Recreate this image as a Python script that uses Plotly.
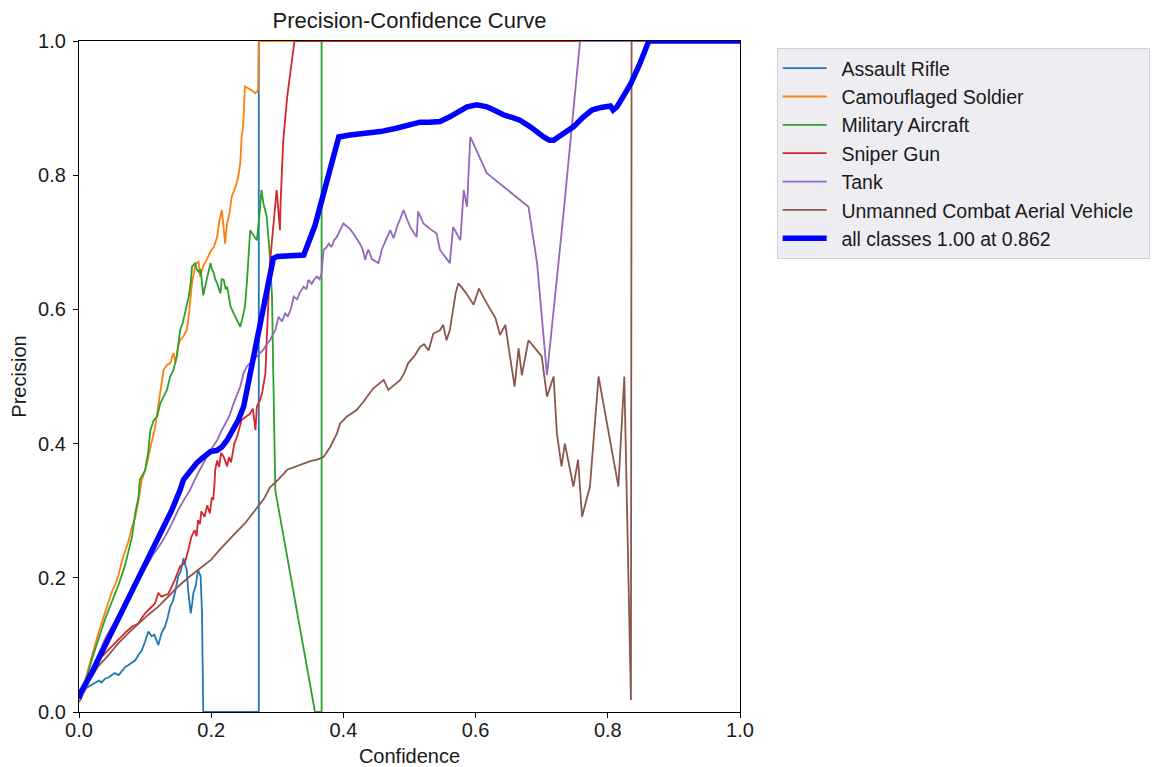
import plotly.graph_objects as go

# ---------------- data ----------------
ar_x = [0, 0.002, 0.010, 0.018, 0.024, 0.030, 0.034, 0.040, 0.044, 0.050, 0.054, 0.060, 0.064, 0.070,
        0.075, 0.080, 0.085, 0.090, 0.095, 0.100, 0.105, 0.110, 0.114, 0.120, 0.125, 0.130, 0.134,
        0.138, 0.142, 0.145, 0.150, 0.154, 0.158, 0.161, 0.163, 0.165, 0.167, 0.169, 0.171, 0.173,
        0.177, 0.180, 0.184, 0.186, 0.188, 0.272, 0.272, 1.0]
ar_y = [0.02, 0.023, 0.035, 0.040, 0.043, 0.047, 0.044, 0.050, 0.051, 0.056, 0.058, 0.055, 0.060, 0.067,
        0.070, 0.074, 0.077, 0.085, 0.092, 0.105, 0.120, 0.113, 0.115, 0.100, 0.118, 0.127, 0.140,
        0.157, 0.165, 0.177, 0.202, 0.210, 0.229, 0.218, 0.212, 0.182, 0.165, 0.147, 0.160, 0.177,
        0.190, 0.212, 0.202, 0.150, 0.0, 0.0, 1.0, 1.0]

cs_x = [0, 0.01, 0.02, 0.03, 0.04, 0.045, 0.05, 0.055, 0.06, 0.065, 0.07, 0.075, 0.08, 0.085, 0.09,
        0.095, 0.100, 0.104, 0.108, 0.112, 0.116, 0.120, 0.124, 0.128, 0.133, 0.138, 0.143, 0.146,
        0.150, 0.153, 0.158, 0.163, 0.166, 0.168, 0.171, 0.174, 0.176, 0.178, 0.181, 0.183, 0.186,
        0.188, 0.192, 0.196, 0.200, 0.204, 0.209, 0.212, 0.216, 0.219, 0.221, 0.224, 0.228, 0.231,
        0.234, 0.237, 0.241, 0.244, 0.246, 0.248, 0.249, 0.251, 0.259, 0.267, 0.271, 0.272, 1.0]
cs_y = [0.02, 0.05, 0.085, 0.12, 0.15, 0.165, 0.18, 0.19, 0.205, 0.225, 0.24, 0.255, 0.276, 0.29, 0.315,
        0.346, 0.36, 0.375, 0.395, 0.41, 0.43, 0.455, 0.48, 0.510, 0.517, 0.52, 0.535, 0.52,
        0.545, 0.554, 0.56, 0.569, 0.59, 0.609, 0.64, 0.655, 0.669, 0.669, 0.671, 0.649, 0.66,
        0.664, 0.672, 0.681, 0.688, 0.693, 0.708, 0.73, 0.748, 0.72, 0.698, 0.728, 0.745, 0.768,
        0.775, 0.783, 0.798, 0.818, 0.857, 0.87, 0.887, 0.932, 0.928, 0.922, 0.927, 1.0, 1.0]

ma_x = [0, 0.01, 0.02, 0.03, 0.04, 0.05, 0.06, 0.07, 0.08, 0.085, 0.09, 0.092, 0.097, 0.100, 0.105,
        0.108, 0.113, 0.118, 0.123, 0.128, 0.133, 0.138, 0.143, 0.148, 0.153, 0.157, 0.161, 0.166,
        0.169, 0.171, 0.176, 0.178, 0.181, 0.184, 0.186, 0.188, 0.191, 0.194, 0.199, 0.201, 0.204,
        0.206, 0.209, 0.211, 0.214, 0.216, 0.219, 0.222, 0.224, 0.227, 0.229, 0.234, 0.240, 0.244,
        0.248, 0.251, 0.254, 0.256, 0.259, 0.263, 0.267, 0.269, 0.273, 0.276, 0.279, 0.284, 0.289,
        0.292, 0.294, 0.297, 0.357, 0.367, 0.367, 1.0]
ma_y = [0.02, 0.045, 0.08, 0.11, 0.14, 0.165, 0.19, 0.22, 0.26, 0.296, 0.32, 0.346, 0.355, 0.36, 0.39,
        0.42, 0.435, 0.44, 0.46, 0.47, 0.48, 0.50, 0.51, 0.53, 0.569, 0.58, 0.599, 0.619,
        0.64, 0.664, 0.669, 0.66, 0.656, 0.66, 0.64, 0.621, 0.635, 0.649, 0.669, 0.66, 0.654,
        0.645, 0.639, 0.632, 0.624, 0.645, 0.644, 0.63, 0.634, 0.618, 0.605, 0.594, 0.583, 0.574,
        0.59, 0.604, 0.64, 0.678, 0.718, 0.712, 0.706, 0.703, 0.74, 0.778, 0.758, 0.738, 0.678,
        0.619, 0.50, 0.33, 0.0, 0.0, 1.0, 1.0]

sg_x = [0, 0.002, 0.015, 0.029, 0.04, 0.049, 0.056, 0.064, 0.072, 0.080, 0.085, 0.090, 0.095, 0.100,
        0.108, 0.115, 0.120, 0.125, 0.130, 0.135, 0.138, 0.142, 0.145, 0.150, 0.153, 0.157, 0.160,
        0.165, 0.170, 0.175, 0.178, 0.180, 0.183, 0.185, 0.190, 0.194, 0.198, 0.201, 0.203, 0.205,
        0.206, 0.209, 0.212, 0.215, 0.219, 0.222, 0.224, 0.227, 0.230, 0.235, 0.239, 0.246, 0.252,
        0.259, 0.263, 0.267, 0.269, 0.274, 0.277, 0.282, 0.284, 0.287, 0.289, 0.292, 0.296, 0.299,
        0.302, 0.304, 0.305, 0.307, 0.309, 0.315, 0.320, 0.326, 1.0]
sg_y = [0.02, 0.023, 0.05, 0.077, 0.088, 0.097, 0.105, 0.112, 0.12, 0.127, 0.13, 0.132, 0.14, 0.147,
        0.155, 0.162, 0.177, 0.172, 0.174, 0.176, 0.182, 0.19, 0.197, 0.21, 0.217, 0.22, 0.222,
        0.24, 0.261, 0.271, 0.262, 0.286, 0.28, 0.299, 0.291, 0.308, 0.296, 0.32, 0.316, 0.34,
        0.36, 0.375, 0.365, 0.386, 0.38, 0.372, 0.366, 0.38, 0.372, 0.40, 0.410, 0.435, 0.44,
        0.445, 0.452, 0.420, 0.455, 0.465, 0.475, 0.505, 0.554, 0.619, 0.669, 0.703, 0.74, 0.778,
        0.743, 0.718, 0.76, 0.813, 0.852, 0.917, 0.955, 1.0, 1.0]

tk_x = [0, 0.02, 0.04, 0.06, 0.08, 0.10, 0.113, 0.120, 0.130, 0.140, 0.150, 0.160, 0.168, 0.175,
        0.182, 0.188, 0.193, 0.199, 0.204, 0.209, 0.215, 0.221, 0.227, 0.234, 0.239, 0.244, 0.249,
        0.254, 0.259, 0.264, 0.269, 0.274, 0.279, 0.284, 0.289, 0.292, 0.297, 0.302, 0.307, 0.312,
        0.316, 0.320, 0.325, 0.330, 0.334, 0.340, 0.344, 0.347, 0.352, 0.356, 0.360, 0.364, 0.367,
        0.370, 0.374, 0.378, 0.382, 0.386, 0.390, 0.395, 0.400, 0.405, 0.410, 0.415, 0.420, 0.425,
        0.429, 0.433, 0.436, 0.438, 0.443, 0.448, 0.453, 0.456, 0.458, 0.465, 0.471, 0.476, 0.481,
        0.486, 0.491, 0.496, 0.501, 0.506, 0.511, 0.513, 0.517, 0.521, 0.531, 0.541, 0.546, 0.553,
        0.561, 0.566, 0.571, 0.577, 0.582, 0.587, 0.592, 0.617, 0.680, 0.693, 0.708, 0.733, 0.758, 1.0]
tk_y = [0.02, 0.065, 0.11, 0.145, 0.18, 0.215, 0.236, 0.245, 0.261, 0.28, 0.301, 0.318, 0.331, 0.346,
        0.36, 0.371, 0.38, 0.390, 0.398, 0.405, 0.418, 0.430, 0.44, 0.460, 0.472, 0.485, 0.505,
        0.515, 0.52, 0.525, 0.530, 0.535, 0.540, 0.548, 0.554, 0.56, 0.569, 0.589, 0.582, 0.594,
        0.59, 0.599, 0.619, 0.615, 0.625, 0.634, 0.63, 0.644, 0.638, 0.645, 0.649, 0.645, 0.654,
        0.689, 0.692, 0.698, 0.693, 0.703, 0.708, 0.718, 0.728, 0.724, 0.72, 0.713, 0.706, 0.698,
        0.69, 0.674, 0.685, 0.689, 0.675, 0.672, 0.669, 0.68, 0.689, 0.705, 0.718, 0.706, 0.723,
        0.735, 0.748, 0.735, 0.723, 0.715, 0.708, 0.746, 0.737, 0.728, 0.72, 0.713, 0.689, 0.68,
        0.669, 0.723, 0.713, 0.703, 0.778, 0.753, 0.857, 0.803, 0.753, 0.669, 0.502, 0.743, 1.0, 1.0]

uc_x = [0, 0.002, 0.015, 0.029, 0.045, 0.059, 0.075, 0.090, 0.105, 0.120, 0.135, 0.150, 0.165, 0.180,
        0.190, 0.200, 0.213, 0.226, 0.238, 0.251, 0.261, 0.271, 0.280, 0.289, 0.300, 0.315, 0.325,
        0.340, 0.350, 0.360, 0.370, 0.380, 0.390, 0.395, 0.405, 0.420, 0.430, 0.445, 0.455, 0.461,
        0.468, 0.478, 0.486, 0.492, 0.498, 0.507, 0.516, 0.522, 0.529, 0.536, 0.546, 0.551, 0.556,
        0.561, 0.566, 0.570, 0.574, 0.585, 0.597, 0.605, 0.617, 0.625, 0.630, 0.637, 0.645, 0.652,
        0.659, 0.665, 0.670, 0.680, 0.700, 0.708, 0.718, 0.723, 0.730, 0.735, 0.748, 0.755, 0.761,
        0.773, 0.786, 0.816, 0.825, 0.835, 0.836, 1.0]
uc_y = [0.015, 0.018, 0.045, 0.068, 0.085, 0.102, 0.118, 0.132, 0.145, 0.157, 0.172, 0.187, 0.2, 0.212,
        0.22, 0.227, 0.242, 0.256, 0.268, 0.281, 0.294, 0.306, 0.318, 0.335, 0.345, 0.361, 0.365,
        0.371, 0.374, 0.376, 0.380, 0.395, 0.415, 0.430, 0.440, 0.450, 0.462, 0.482, 0.49, 0.495,
        0.480, 0.488, 0.495, 0.505, 0.520, 0.53, 0.544, 0.548, 0.539, 0.564, 0.569, 0.577, 0.554,
        0.569, 0.599, 0.625, 0.639, 0.625, 0.607, 0.631, 0.609, 0.595, 0.587, 0.562, 0.577, 0.530,
        0.485, 0.542, 0.502, 0.554, 0.530, 0.470, 0.500, 0.415, 0.366, 0.400, 0.336, 0.376, 0.291,
        0.336, 0.500, 0.336, 0.500, 0.018, 1.0, 1.0]

all_x = [0, 0.002, 0.02, 0.04, 0.06, 0.08, 0.10, 0.12, 0.14, 0.153, 0.158, 0.165, 0.172, 0.178, 0.186,
         0.194, 0.199, 0.209, 0.216, 0.224, 0.233, 0.241, 0.249, 0.254, 0.259, 0.264, 0.274, 0.284,
         0.294, 0.300, 0.309, 0.325, 0.340, 0.357, 0.375, 0.390, 0.393, 0.410, 0.430, 0.456, 0.480,
         0.500, 0.516, 0.530, 0.546, 0.561, 0.575, 0.587, 0.602, 0.617, 0.630, 0.642, 0.655, 0.667,
         0.683, 0.695, 0.703, 0.712, 0.718, 0.725, 0.737, 0.748, 0.762, 0.776, 0.790, 0.798, 0.804,
         0.808, 0.814, 0.825, 0.835, 0.848, 0.859, 0.862, 1.0]
all_y = [0.02, 0.028, 0.06, 0.10, 0.14, 0.18, 0.22, 0.26, 0.30, 0.331, 0.346, 0.355, 0.365, 0.371, 0.378,
         0.383, 0.388, 0.390, 0.395, 0.405, 0.42, 0.435, 0.455, 0.480, 0.51, 0.535, 0.579, 0.629,
         0.676, 0.679, 0.679, 0.680, 0.681, 0.725, 0.795, 0.852, 0.857, 0.860, 0.862, 0.865, 0.870,
         0.875, 0.879, 0.879, 0.880, 0.887, 0.896, 0.902, 0.905, 0.902, 0.896, 0.890, 0.886, 0.882,
         0.872, 0.862, 0.857, 0.852, 0.852, 0.857, 0.865, 0.872, 0.886, 0.897, 0.901, 0.902, 0.903,
         0.897, 0.902, 0.92, 0.937, 0.965, 0.995, 1.0, 1.0]

names = ["Assault Rifle", "Camouflaged Soldier", "Military Aircraft", "Sniper Gun", "Tank",
         "Unmanned Combat Aerial Vehicle"]
colors = ["#1f77b4", "#ff7f0e", "#2ca02c", "#d62728", "#9467bd", "#8c564b"]
series = [(ar_x, ar_y), (cs_x, cs_y), (ma_x, ma_y), (sg_x, sg_y), (tk_x, tk_y), (uc_x, uc_y)]
all_name = "all classes 1.00 at 0.862"
tick_vals = [0, 0.2, 0.4, 0.6, 0.8, 1.0]
tick_text = ["0.0", "0.2", "0.4", "0.6", "0.8", "1.0"]

FONT = "Liberation Sans, Arial, Helvetica, sans-serif"
PAD = "\u2002"  # en space: gap between legend line sample and its label

fig = go.Figure()
for (xs, ys), n, c in zip(series, names, colors):
    fig.add_trace(go.Scatter(x=xs, y=ys, mode="lines", name=PAD + n + PAD,
                             line=dict(color=c, width=1.8)))
fig.add_trace(go.Scatter(x=all_x, y=all_y, mode="lines", name=PAD + all_name,
                         line=dict(color="#0000ff", width=5.5)))

# page body has an 8px default margin, so the figure is drawn 8px smaller
W, H = 1154, 759
fig.update_layout(
    width=W, height=H, autosize=False,
    margin=dict(l=71, r=422, t=33, b=55),
    paper_bgcolor="white", plot_bgcolor="white",
    font=dict(family=FONT, size=20, color="#1a1a1a"),
    title=dict(text="Precision-Confidence Curve", x=0.5, xanchor="center", xref="paper",
               y=1 - 12 / H, yref="container", yanchor="middle",
               font=dict(size=22, family=FONT, color="#1a1a1a")),
    showlegend=True,
    legend=dict(x=1.0555, y=0.9896, xanchor="left", yanchor="top",
                bgcolor="#ededf2", bordercolor="#d0d0d8", borderwidth=1,
                font=dict(size=19.5, family=FONT, color="#1a1a1a"),
                itemwidth=44, tracegroupgap=0),
)
fig.update_xaxes(range=[0, 1], tickvals=tick_vals, ticktext=tick_text,
                 showgrid=False, zeroline=False, showline=True, linecolor="black", linewidth=1.3,
                 mirror=True, ticks="outside", ticklen=5, tickwidth=1.3, tickcolor="black",
                 ticklabelstandoff=-5,
                 title=dict(text="Confidence", standoff=9, font=dict(size=20)),
                 automargin=False)
fig.update_yaxes(range=[0, 1], tickvals=tick_vals, ticktext=tick_text,
                 showgrid=False, zeroline=False, showline=True, linecolor="black", linewidth=1.3,
                 mirror=True, ticks="outside", ticklen=5, tickwidth=1.3, tickcolor="black",
                 ticklabelstandoff=3,
                 title=dict(text="Precision", standoff=8, font=dict(size=20)),
                 automargin=False)

fig.write_html("out.html")
